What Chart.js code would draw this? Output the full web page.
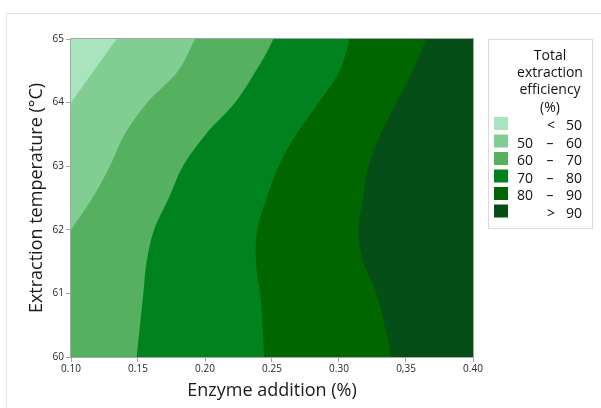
<!DOCTYPE html>
<html>
<head>
<meta charset="utf-8">
<script src="https://cdn.jsdelivr.net/npm/chart.js@4.4.1/dist/chart.umd.min.js"></script>
<style>
    html, body { margin: 0; padding: 0; background: #fff; }
    #wrap { position: relative; width: 601px; height: 408px; overflow: hidden; }
    #frame { position: absolute; left: 6px; top: 13px; width: 600px; height: 400px; border-top: 1px solid #e3e3e3; border-left: 1px solid #e3e3e3; }
    #contourChart { position: absolute; left: 0; top: 0; }
</style>
</head>
<body>
<div id="wrap">
    <div id="frame"></div>
    <canvas id="contourChart" width="601" height="408"></canvas>
</div>
<script>
const temps = [59.5, 60, 60.5, 61, 61.5, 62, 62.5, 63, 63.5, 64, 64.5, 65, 65.5];

// enzyme addition (%) where each contour level is crossed, one value per temperature
const bound50 = [-0.053, -0.036, -0.019, -0.002, 0.015, 0.032, 0.049, 0.066, 0.083, 0.100, 0.117, 0.134, 0.151];
const bound60 = [0.025, 0.040, 0.055, 0.070, 0.085, 0.100, 0.116, 0.129, 0.140, 0.157, 0.180, 0.1925, 0.204];
const bound70 = [0.147, 0.149, 0.1515, 0.154, 0.1565, 0.162, 0.173, 0.1835, 0.2005, 0.2225, 0.238, 0.251, 0.258];
const bound80 = [0.245, 0.244, 0.243, 0.241, 0.238, 0.239, 0.246, 0.255, 0.268, 0.285, 0.3005, 0.308, 0.314];
const bound90 = [0.343, 0.339, 0.334, 0.328, 0.318, 0.3145, 0.318, 0.322, 0.331, 0.343, 0.355, 0.365, 0.373];

const levels = [50, 60, 70, 80, 90];
const bandColors = ['#a8e4bd', '#82cd92', '#55b060', '#00821f', '#006600', '#054e17'];

const xTicks = [0.10, 0.15, 0.20, 0.25, 0.30, 0.35, 0.40];
const xTickLabels = ['0.10', '0.15', '0.20', '0.25', '0.30', '0,35', '0.40'];
const yTicks = [60, 61, 62, 63, 64, 65];

const legendTitle = ['Total', 'extraction', 'efficiency', '(%)'];

const xMin = xTicks[0], xMax = xTicks[xTicks.length - 1];
const boundaries = [bound50, bound60, bound70, bound80, bound90];

// polygon: contour line on the left, closed off past the right edge of the plot
function regionPoints(bound) {
    const pts = temps.map((t, i) => ({ x: bound[i], y: t }));
    pts.push({ x: xMax + 0.06, y: temps[temps.length - 1] + 0.1 });
    pts.push({ x: xMax + 0.06, y: temps[0] - 0.1 });
    return pts;
}

const datasets = [{
    label: '< ' + levels[0],
    data: [
        { x: xMin - 0.06, y: temps[0] }, { x: xMin - 0.06, y: temps[temps.length - 1] },
        { x: xMax + 0.06, y: temps[temps.length - 1] }, { x: xMax + 0.06, y: temps[0] }
    ],
    backgroundColor: bandColors[0],
    tension: 0,
    order: 10
}];
boundaries.forEach((b, k) => {
    datasets.push({
        label: '> ' + levels[k],
        data: regionPoints(b),
        backgroundColor: bandColors[k + 1],
        tension: 0.35,
        order: 9 - k
    });
});
datasets.forEach(ds => {
    ds.showLine = true;
    ds.fill = 'shape';
    ds.borderWidth = 0;
    ds.borderColor = 'rgba(0,0,0,0)';
    ds.pointRadius = 0;
    ds.pointHoverRadius = 0;
});

// frame round the plot area
const framePlugin = {
    id: 'plotFrame',
    afterDatasetsDraw(chart) {
        const { ctx, chartArea: a } = chart;
        ctx.save();
        ctx.strokeStyle = '#a6a6a6';
        ctx.lineWidth = 1;
        ctx.strokeRect(a.left - 0.5, a.top - 0.5, a.right - a.left + 1, a.bottom - a.top + 1);
        ctx.restore();
    }
};

// legend box on the right
const bandLegend = {
    id: 'bandLegend',
    afterDraw(chart) {
        const { ctx, chartArea: a } = chart;
        const left = a.right + 15, top = a.top;
        const w = 104, h = 189;
        ctx.save();
        ctx.strokeStyle = '#dadada';
        ctx.lineWidth = 1;
        ctx.strokeRect(left + 0.5, top + 0.5, w, h);

        ctx.fillStyle = '#111';
        ctx.font = "14px 'Open Sans', sans-serif";
        ctx.textBaseline = 'alphabetic';
        ctx.textAlign = 'center';
        legendTitle.forEach((line, i) => ctx.fillText(line, left + 62, top + 21 + i * 17.2));

        for (let i = 0; i < bandColors.length; i++) {
            const y = top + 78 + i * 17.5;
            ctx.fillStyle = bandColors[i];
            ctx.fillRect(left + 6, y, 14, 13);
            ctx.fillStyle = '#111';
            const base = y + 13;
            if (i === 0) {
                ctx.textAlign = 'center';
                ctx.fillText('<', left + 63, base);
                ctx.textAlign = 'right';
                ctx.fillText(String(levels[0]), left + 94, base);
            } else if (i === bandColors.length - 1) {
                ctx.textAlign = 'center';
                ctx.fillText('>', left + 63, base);
                ctx.textAlign = 'right';
                ctx.fillText(String(levels[levels.length - 1]), left + 94, base);
            } else {
                ctx.textAlign = 'right';
                ctx.fillText(String(levels[i - 1]), left + 45, base);
                ctx.textAlign = 'center';
                ctx.fillText('–', left + 62, base);
                ctx.textAlign = 'right';
                ctx.fillText(String(levels[i]), left + 94, base);
            }
        }
        ctx.restore();
    }
};

Chart.defaults.font.family = "'Open Sans', sans-serif";

new Chart(document.getElementById('contourChart').getContext('2d'), {
    type: 'scatter',
    data: { datasets: datasets },
    options: {
        responsive: false,
        animation: false,
        devicePixelRatio: 1,
        layout: { padding: { top: 39, right: 128, left: 0, bottom: 0 } },
        elements: { line: { capBezierPoints: false } },
        plugins: {
            legend: { display: false },
            tooltip: { enabled: false }
        },
        scales: {
            x: {
                type: 'linear',
                min: xMin,
                max: xMax,
                afterBuildTicks: s => { s.ticks = xTicks.map(v => ({ value: v })); },
                afterFit: s => { s.height = 51; },
                ticks: {
                    callback: (v, i) => xTickLabels[i],
                    font: { size: 10 },
                    color: '#262626',
                    padding: 1,
                    maxRotation: 0
                },
                grid: { drawOnChartArea: false, drawTicks: true, tickLength: 5, color: '#a6a6a6' },
                border: { display: true, color: '#a6a6a6' },
                title: {
                    display: true,
                    text: 'Enzyme addition (%)',
                    font: { size: 18 },
                    color: '#1a1a1a',
                    padding: { top: 0, bottom: 6 }
                }
            },
            y: {
                type: 'linear',
                min: yTicks[0],
                max: yTicks[yTicks.length - 1],
                afterBuildTicks: s => { s.ticks = yTicks.map(v => ({ value: v })); },
                afterFit: s => { s.width = 71; },
                ticks: {
                    callback: v => String(v),
                    font: { size: 10 },
                    color: '#262626',
                    padding: 2
                },
                grid: { drawOnChartArea: false, drawTicks: true, tickLength: 5, color: '#a6a6a6' },
                border: { display: true, color: '#a6a6a6' },
                title: {
                    display: true,
                    text: 'Extraction temperature (°C)',
                    font: { size: 18 },
                    color: '#1a1a1a',
                    padding: { top: 26, bottom: 0 }
                }
            }
        }
    },
    plugins: [framePlugin, bandLegend]
});
</script>
</body>
</html>
